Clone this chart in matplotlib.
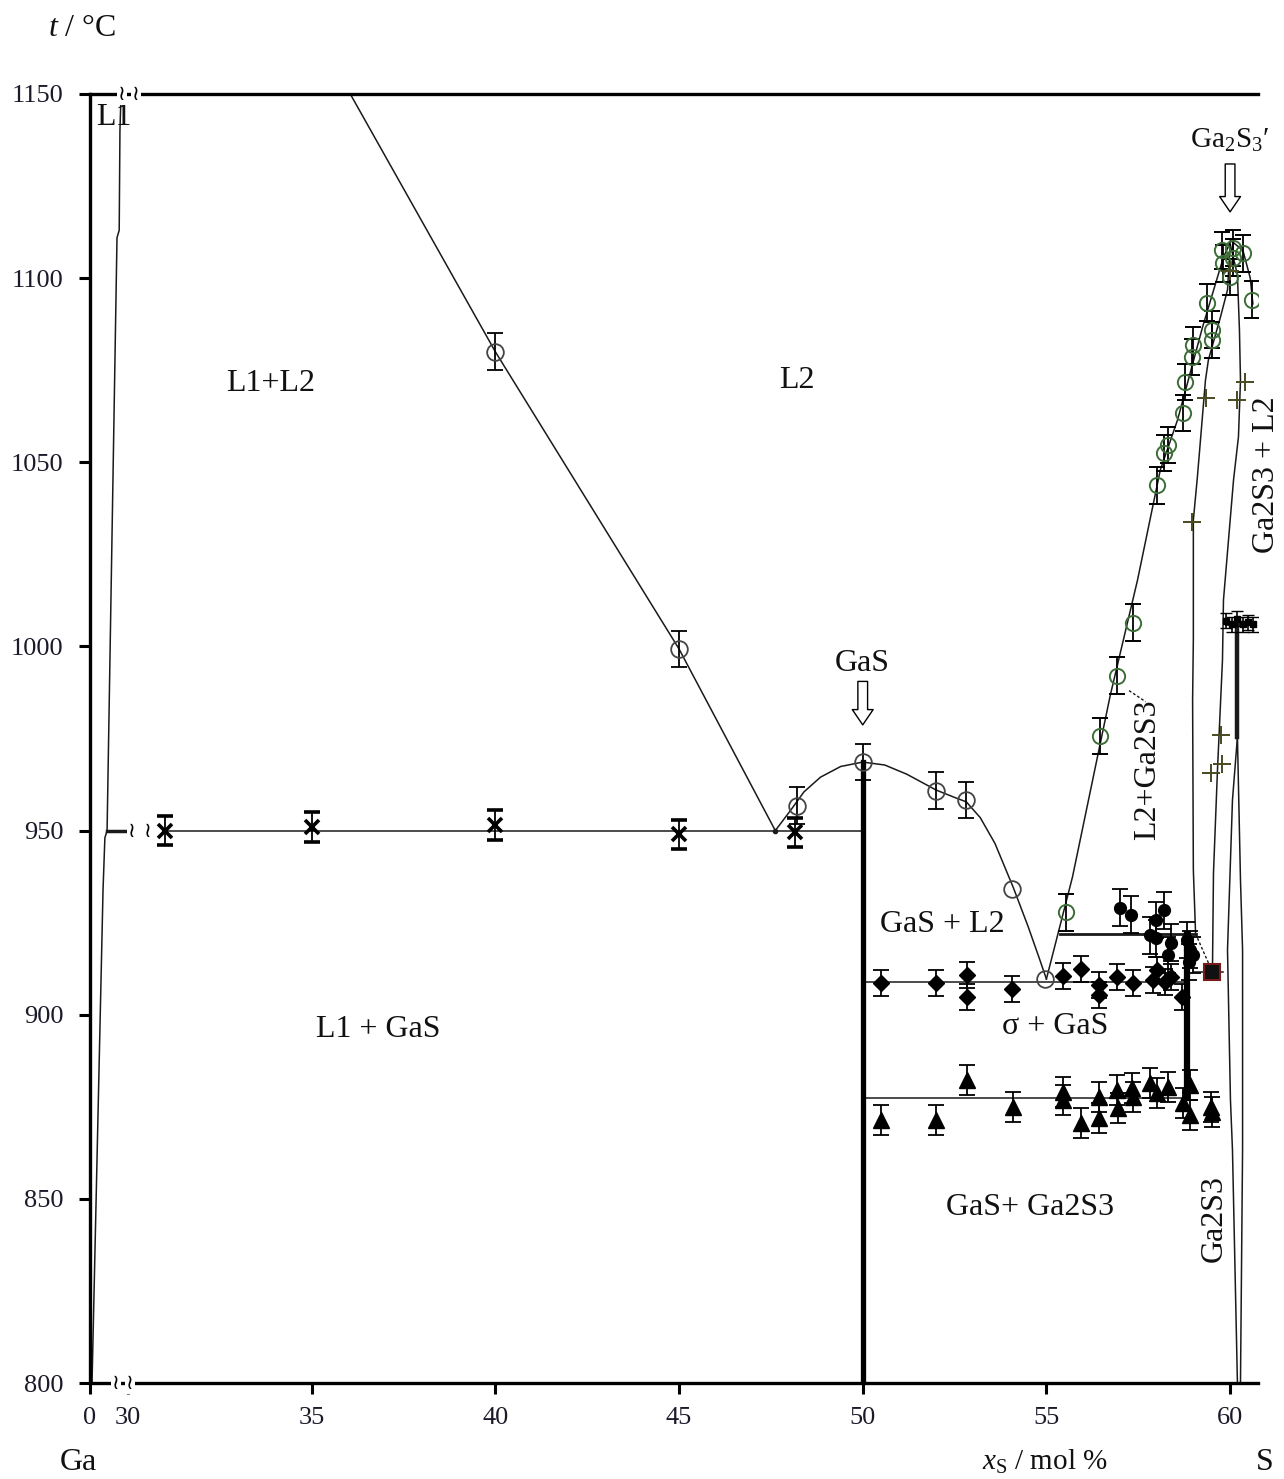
import matplotlib
matplotlib.use('Agg')
import matplotlib.pyplot as plt

plt.rcParams['font.family'] = ['Liberation Serif', 'DejaVu Serif']
plt.rcParams['mathtext.fontset'] = 'custom'
plt.rcParams['mathtext.rm'] = 'Liberation Serif'
plt.rcParams['mathtext.it'] = 'Liberation Serif:italic'

# ---------------- axes ----------------
X_MIN, X_MAX = 28.965, 60.76
Y_MIN, Y_MAX = 800, 1150
x_ticks = [X_MIN, 30, 35, 40, 45, 50, 55, 60]
x_tick_labels = ['0', '30', '35', '40', '45', '50', '55', '60']
y_ticks = [800, 850, 900, 950, 1000, 1050, 1100, 1150]

# ---------------- measured points ----------------
cross_x = [31.0, 35.0, 40.0, 45.0, 48.15]
cross_y = [950.0, 951.0, 951.5, 949.0, 949.5]

open_err_x = [40.0, 45.0, 48.2, 50.0, 52.0, 52.82]
open_err_y = [1080.0, 999.3, 956.7, 968.6, 960.8, 958.3]
open_x = [54.07, 54.97]
open_y = [934.1, 909.7]

green_x = [55.52, 56.47, 56.91, 57.37, 58.0, 58.19, 58.32, 58.73, 58.78, 58.97,
           59.0, 59.52, 59.52, 59.38, 59.79, 59.82, 60.07, 60.09, 60.34, 60.01, 60.6]
green_y = [927.8, 975.7, 992.0, 1006.4, 1043.8, 1052.5, 1054.7, 1063.4, 1071.8, 1078.6,
           1081.8, 1083.2, 1086.0, 1093.3, 1107.6, 1104.0, 1108.2, 1105.5, 1106.8, 1100.3, 1094.1]

plus_x = [58.95, 59.35, 60.2, 60.4, 59.74, 59.79, 59.47, 60.0]
plus_y = [1033.8, 1067.5, 1067.0, 1071.8, 976.0, 968.0, 965.6, 1102.0]

fcirc_x = [56.99, 57.29, 58.19, 57.97, 57.83, 57.97, 58.38, 58.32, 58.84, 58.92, 58.87, 58.98]
fcirc_y = [929.0, 927.1, 928.4, 925.7, 921.6, 920.8, 919.5, 916.2, 920.3, 917.6, 914.3, 916.2]

diam_x = [50.51, 52.0, 52.85, 52.85, 54.07, 55.46, 55.95, 56.42, 56.42, 56.93,
          57.37, 58.02, 57.89, 58.38, 58.24, 58.70]
diam_y = [908.6, 908.6, 910.8, 904.8, 907.0, 910.5, 912.4, 908.1, 905.4, 910.2,
          908.6, 912.2, 909.4, 910.2, 908.9, 904.8]

tri_x = [50.51, 52.0, 52.85, 54.1, 55.46, 55.46, 55.95, 56.42, 56.42, 56.93, 56.96,
         57.34, 57.37, 57.83, 58.02, 58.30, 58.92, 58.73, 58.92, 59.47, 59.52]
tri_y = [871.4, 871.4, 882.3, 875.0, 879.0, 876.9, 870.6, 872.0, 877.7, 879.6, 874.7,
         880.1, 877.7, 881.5, 878.7, 880.4, 880.9, 876.0, 872.8, 875.0, 873.6]

sq_x = [59.9, 60.05, 60.2, 60.35, 60.5, 60.62]
sq_y = [1007.0, 1006.0, 1007.5, 1006.0, 1006.5, 1006.0]

red_sq_x = [59.52]
red_sq_y = [911.6]

# ---------------- phase boundaries ----------------
l1_x = [29.81, 29.78, 29.76, 29.70, 29.43, 29.37, 29.32, 29.02]
l1_y = [1150, 1140, 1113, 1111, 950, 948, 934, 800]

mono_x = [36.05, 40.0, 45.0, 47.62]
mono_y = [1150, 1080.0, 999.3, 950]

dome_x = [47.62, 48.0, 48.4, 48.85, 49.4, 50.0, 50.6, 51.2, 52.0, 52.5, 52.82,
          53.2, 53.6, 54.1, 54.5, 54.8, 55.0]
dome_y = [950, 955, 960.5, 964.5, 967.4, 968.6, 967.8, 965.3, 961.0, 959.0, 957.8,
          953.5, 946.5, 934.5, 924, 915.5, 909.7]

liqA_x = [55.0, 55.71, 56.74, 57.48, 58.10, 58.57, 59.25, 59.82, 60.01]
liqA_y = [909.7, 937.4, 986.8, 1018.0, 1047.9, 1061.5, 1086.7, 1105.7, 1109.8]

lineB_x = [60.01, 59.93, 59.74, 59.41, 59.33, 59.11, 59.0, 59.0, 58.98, 59.0, 59.06]
lineB_y = [1110.4, 1096.8, 1089.5, 1077.8, 1072.3, 1046.0, 1034.3, 1001.8, 985.5, 939.3, 922.2]

lineC_x = [60.01, 60.20, 60.255, 60.283, 60.228, 60.094, 59.957, 59.82, 59.793, 59.657, 59.548, 59.52]
lineC_y = [1109.0, 1100.9, 1085.9, 1072.3, 1056.9, 1045.2, 1028.9, 1012.6, 996.3, 966.5, 938.5, 911.6]

lineR_x = [60.05, 60.35, 60.55, 60.62]
lineR_y = [1110.0, 1107.5, 1100.0, 1093.0]

thickD_x = [60.20, 60.20]
thickD_y = [1006.0, 975.4]

lineD_x = [60.20, 60.283, 60.34, 60.34, 60.283]
lineD_y = [975.4, 936.6, 917.6, 863.3, 800]

lineE_x = [60.20, 60.065, 59.93, 60.01, 60.065, 60.20]
lineE_y = [975.4, 958.3, 917.6, 876.9, 863.3, 800]

# ---------------- figure ----------------
fig = plt.figure(figsize=(12.84, 14.79), dpi=100)
ax = fig.add_axes([90 / 1284, (1479 - 1383) / 1479, 1168 / 1284, 1289 / 1479])
ax.set_xlim(X_MIN, X_MAX)
ax.set_ylim(Y_MIN, Y_MAX)

for s in ['left', 'bottom', 'top']:
    ax.spines[s].set_linewidth(2.4)
    ax.spines[s].set_color('black')
ax.spines['right'].set_visible(False)

ax.set_xticks(x_ticks)
ax.set_xticklabels(x_tick_labels)
ax.set_yticks(y_ticks)
ax.tick_params(axis='both', direction='out', width=2.2, length=8, labelsize=19,
               colors='black', labelcolor='#1a1a2a')
ax.tick_params(axis='x', pad=9)
ax.tick_params(axis='y', pad=11)

LC = '#1a1a1a'
thin = dict(color=LC, lw=1.1, zorder=2)
ax.plot(l1_x, l1_y, **thin)
ax.plot(mono_x, mono_y, **thin)
ax.plot(dome_x, dome_y, **thin)
ax.plot(liqA_x, liqA_y, **thin)
ax.plot(lineB_x, lineB_y, **thin)
ax.plot(lineC_x, lineC_y, **thin)
ax.plot(lineR_x, lineR_y, **thin)
ax.plot(lineD_x, lineD_y, **thin)
ax.plot(lineE_x, lineE_y, **thin)
ax.plot(thickD_x, thickD_y, color=LC, lw=3.2, zorder=2)
ax.plot([mono_x[-1]], [mono_y[-1]], 'o', ms=3, color=LC, zorder=2)

# horizontal invariants
ax.plot([31.0, 50.0], [950, 950], **thin)
ax.plot([29.43, 29.92], [950, 950], color=LC, lw=2.5, zorder=2)
ax.plot([50.0, 58.84], [909.0, 909.0], **thin)
ax.plot([50.0, 58.84], [877.5, 877.5], **thin)
ax.plot([55.38, 59.06], [922.0, 922.0], color=LC, lw=2.0, zorder=2)
ax.plot([59.06, 59.52], [922.0, 911.6], color=LC, lw=1.0, ls=(0, (2, 1.5)), zorder=2)
ax.plot([59.0, 59.8], [911.6, 911.6], **thin)
ax.plot([59.9, 60.62], [1006.0, 1006.0], color=LC, lw=2.0, zorder=2)

# GaS compound line and sigma line
ax.plot([50.0, 50.0], [968.6, 800], color='black', lw=3.8, zorder=3)
ax.plot([58.84, 58.84], [922.0, 877.5], color='black', lw=4.5, zorder=3)

eb = dict(ecolor='black', elinewidth=1.3, capsize=6, capthick=1.3, ls='none', zorder=4)

ax.errorbar(cross_x, cross_y, yerr=4, marker='x', ms=10, mew=2.6, mec='black', **eb)
ax.errorbar(open_err_x, open_err_y, yerr=5, marker='o', ms=12, mfc='none', mec='#444444', mew=1.3, **eb)
ax.plot(open_x, open_y, 'o', ms=12, mfc='none', mec='#444444', mew=1.3, zorder=4)
ax.errorbar(green_x, green_y, yerr=5, marker='o', ms=11, mfc='none', mec='#3d6e38', mew=1.4, **eb)
ax.plot(plus_x, plus_y, '+', ms=13, mew=1.4, color='#4a4a20', zorder=5)
ax.errorbar(fcirc_x, fcirc_y, yerr=5, marker='o', ms=8.5, mfc='black', mec='black', **eb)
ax.errorbar(diam_x, diam_y, yerr=3.5, marker='D', ms=8, mfc='black', mec='black', **eb)
ax.errorbar(tri_x, tri_y, yerr=4, marker='^', ms=11, mfc='black', mec='black', **eb)
ax.errorbar(sq_x, sq_y, yerr=2, marker='s', ms=5, mfc='black', mec='black',
            ecolor='black', elinewidth=1.2, capsize=4, ls='none', zorder=4)
ax.plot(red_sq_x, red_sq_y, 's', ms=11, mfc='#111111', mec='#7a1a1a', mew=1.5, zorder=6)

# break marks
brk = dict(fontsize=15, family='DejaVu Sans', ha='center', va='center', zorder=10, clip_on=False,
           bbox=dict(boxstyle='square,pad=0.05', fc='white', ec='none'))
for bx, by in [(29.84, 1150), (30.22, 1150), (29.67, 800), (30.05, 800), (30.11, 950), (30.54, 950)]:
    ax.text(bx, by, '≀', **brk)

# arrows
arr = dict(facecolor='white', edgecolor='black', width=7, headwidth=15, headlength=11, shrink=0, lw=1.0)
ax.annotate('', xy=(50.0, 978.7), xytext=(50.0, 990.5), arrowprops=arr, zorder=6)
ax.annotate('', xy=(60.0, 1118.0), xytext=(60.0, 1131.0), arrowprops=arr, zorder=6)

# region labels
fs = 23
tc = '#111111'
ax.text(29.12, 1143.5, 'L1', fontsize=fs, color=tc, ha='left', va='center')
ax.text(33.87, 1071.5, 'L1+L2', fontsize=fs, color=tc, ha='center', va='center')
ax.text(48.22, 1072.3, 'L2', fontsize=fs, color=tc, ha='center', va='center')
ax.text(50.0, 995.5, 'GaS', fontsize=fs, color=tc, ha='center', va='center')
ax.text(60.0, 1137.5, 'Ga$_2$S$_3$′', fontsize=fs - 2, color=tc, ha='center', va='center')
ax.text(52.17, 924.5, 'GaS + L2', fontsize=fs, color=tc, ha='center', va='center')
ax.text(36.81, 895.9, 'L1 + GaS', fontsize=fs, color=tc, ha='center', va='center')
ax.text(55.24, 896.7, 'σ + GaS', fontsize=fs, color=tc, ha='center', va='center')
ax.text(54.56, 847.6, 'GaS+ Ga2S3', fontsize=fs, color=tc, ha='center', va='center')
ax.text(57.75, 966.4, 'L2+Ga2S3', fontsize=fs, color=tc, ha='center', va='center', rotation=90)
ax.text(61.0, 1046.6, 'Ga2S3 + L2', fontsize=fs, color=tc, ha='center', va='center',
        rotation=90, clip_on=False)
ax.text(59.57, 844.8, 'Ga2S3', fontsize=fs, color=tc, ha='center', va='center', rotation=90)
ax.plot([57.25, 57.7], [988.0, 985.0], color=LC, lw=1.0, ls=(0, (2, 1.5)), zorder=2)

# axis titles
fig.text(48 / 1284, 1 - 28 / 1479, '$t$ / °C', fontsize=23, color=tc, ha='left', va='center')
fig.text(1045 / 1284, 1 - 1462 / 1479, '$x_{\\mathrm{S}}$ / mol %', fontsize=21, color=tc,
         ha='center', va='center')
fig.text(78 / 1284, 1 - 1462 / 1479, 'Ga', fontsize=23, color=tc, ha='center', va='center')
fig.text(1265 / 1284, 1 - 1462 / 1479, 'S', fontsize=23, color=tc, ha='center', va='center')

fig.savefig('out.png', dpi=100)
